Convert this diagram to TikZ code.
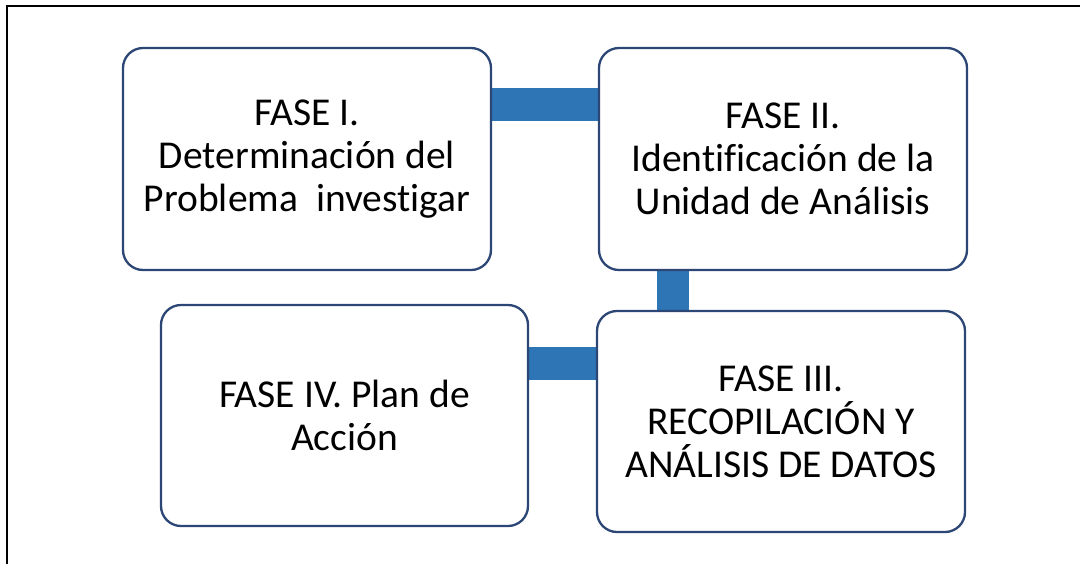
\documentclass[tikz,border=0pt]{standalone}
\usepackage{fontspec}
\setmainfont{Carlito}[Ligatures=NoCommon]
\usetikzlibrary{backgrounds}
\definecolor{boxline}{HTML}{2C4675}
\definecolor{barblue}{HTML}{2E75B6}
\tikzset{
  phase/.style={draw=boxline, line width=2.3pt, fill=white, rounded corners=20pt,
    align=center, inner sep=0pt, font=\fontsize{39.5}{43}\selectfont},
  bar/.style={fill=barblue}
}
\begin{document}
\begin{tikzpicture}[x=1pt,y=-1pt]
\useasboundingbox (0,0) rectangle (1080,563);
\draw[line width=2.5pt] (7,575) -- (7,6) -- (1090,6);
\node[phase, minimum width=368pt, minimum height=222pt] (b1) at (307,159)
  {FASE I.\\Determinación del\\Problema\ \ investigar};
\node[phase, minimum width=368pt, minimum height=222pt] (b2) at (783,159)
  {FASE II.\\Identificación de la\\Unidad de Análisis};
\node[phase, minimum width=367pt, minimum height=221pt] (b4) at (344.5,415.5)
  {FASE IV. Plan de\ \\Acción};
\node[phase, minimum width=368pt, minimum height=221pt] (b3) at (781,421.5)
  {FASE III.\\RECOPILACIÓN Y\\ANÁLISIS DE DATOS};
\begin{scope}[on background layer]
\fill[bar] (b1.center |- 0,88) rectangle (b2.center |- 0,121);
\fill[bar] (b2.center -| 657,0) rectangle (b3.center -| 689,0);
\fill[bar] (b4.center |- 0,347) rectangle (b3.center |- 0,380);
\end{scope}
\end{tikzpicture}
\end{document}
